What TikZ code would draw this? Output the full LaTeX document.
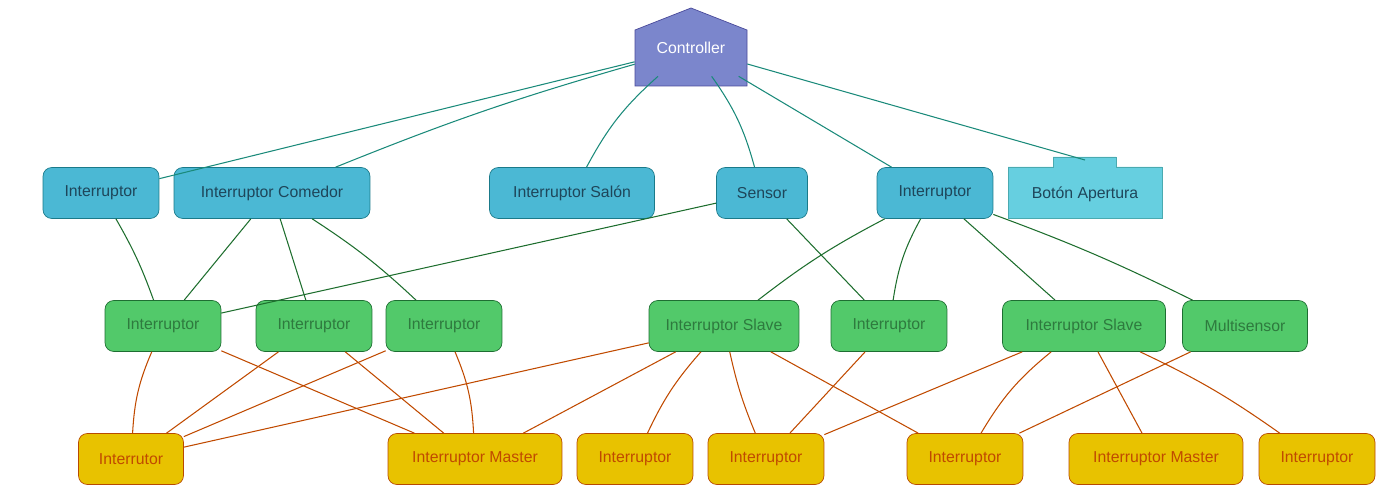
\documentclass[tikz,border=0pt]{standalone}
\usepackage{fontspec}
\setmainfont{Liberation Sans}
\definecolor{tealE}{HTML}{1A8A7A}
\definecolor{greenE}{HTML}{1E6E2E}
\definecolor{orE}{HTML}{C04A00}
\definecolor{cFill}{RGB}{123,134,204}
\definecolor{cDraw}{RGB}{74,74,154}
\definecolor{aFill}{RGB}{75,184,212}
\definecolor{aDraw}{RGB}{26,122,138}
\definecolor{aText}{RGB}{30,70,90}
\definecolor{fFill}{RGB}{102,207,224}
\definecolor{fDraw}{RGB}{74,170,176}
\definecolor{bFill}{RGB}{82,201,106}
\definecolor{bDraw}{RGB}{30,110,50}
\definecolor{bText}{RGB}{46,122,62}
\definecolor{dFill}{RGB}{232,194,0}
\definecolor{dDraw}{RGB}{184,74,0}
\definecolor{dText}{RGB}{192,74,0}
\begin{document}
\begin{tikzpicture}[x=0.02cm,y=-0.02cm,
  font=\fontsize{9}{11}\selectfont,
  box/.style={rounded corners=5pt,minimum height=1.02cm,inner sep=0pt},
  r1/.style={box,fill=aFill,draw=aDraw,text=aText},
  r2/.style={box,fill=bFill,draw=bDraw,text=bText},
  r3/.style={box,fill=dFill,draw=dDraw,text=dText},
  te/.style={tealE,semithick},
  ge/.style={greenE,semithick},
  oe/.style={orE,semithick}]
\useasboundingbox (0,0) rectangle (1380,500);
% controller
\filldraw[fill=cFill,draw=cDraw] (635,86) -- (635,30) -- (691,8) -- (747,30) -- (747,86) -- cycle;
\node[minimum width=2.24cm,minimum height=1.12cm,inner sep=0pt,text=white] (ctrl) at (691,48) {Controller};
% row1
\node[r1,minimum width=2.32cm] (a1) at (101,193) {Interruptor};
\node[r1,minimum width=3.92cm] (a2) at (272,193) {Interruptor Comedor};
\node[r1,minimum width=3.3cm] (a3) at (572,193) {Interruptor Salón};
\node[r1,minimum width=1.82cm] (a4) at (762,193) {Sensor};
\node[r1,minimum width=2.32cm] (a5) at (935,193) {Interruptor};
\filldraw[fill=fFill,draw=fDraw] (1008,218) -- (1008,167) -- (1053,167) -- (1053,157) -- (1116,157) -- (1116,167) -- (1162,167) -- (1162,218) -- cycle;
\node[minimum width=3.08cm,minimum height=1.22cm,inner sep=0pt] (a6) at (1085,188) {};
\node[text=aText] at (1085,194) {Botón Apertura};
\coordinate (a6t) at (1085,160);
% row2
\node[r2,minimum width=2.32cm] (b1) at (163,326) {Interruptor};
\node[r2,minimum width=2.32cm] (b2) at (314,326) {Interruptor};
\node[r2,minimum width=2.32cm] (b3) at (444,326) {Interruptor};
\node[r2,minimum width=3.0cm] (b4) at (724,326) {Interruptor Slave};
\node[r2,minimum width=2.32cm] (b5) at (889,326) {Interruptor};
\node[r2,minimum width=3.26cm] (b6) at (1084,326) {Interruptor Slave};
\node[r2,minimum width=2.5cm] (b7) at (1245,326) {Multisensor};
% row3
\node[r3,minimum width=2.1cm] (c1) at (131,459) {Interrutor};
\node[r3,minimum width=3.48cm] (c2) at (475,459) {Interruptor Master};
\node[r3,minimum width=2.32cm] (c3) at (635,459) {Interruptor};
\node[r3,minimum width=2.32cm] (c4) at (766,459) {Interruptor};
\node[r3,minimum width=2.32cm] (c5) at (965,459) {Interruptor};
\node[r3,minimum width=3.48cm] (c6) at (1156,459) {Interruptor Master};
\node[r3,minimum width=2.32cm] (c7) at (1317,459) {Interruptor};
% controller edges
\draw[te] (ctrl) -- (a1);
\draw[te] (ctrl) to[bend right=3] (a2);
\draw[te] (ctrl) to[bend right=10] (a3);
\draw[te] (ctrl) to[bend left=10] (a4);
\draw[te] (ctrl) -- (a5);
\draw[te] (ctrl) -- (a6t);
% row1-row2
\draw[ge] (a1) to[bend left=5] (b1);
\draw[ge] (a2) -- (b1);
\draw[ge] (a2) -- (b2);
\draw[ge] (a2) to[bend left=5] (b3);
\draw[ge] (a4) -- (b1);
\draw[ge] (a4) -- (b5);
\draw[ge] (a5) to[bend right=5] (b4);
\draw[ge] (a5) to[bend right=10] (b5);
\draw[ge] (a5) -- (b6);
\draw[ge] (a5) to[bend left=3] (b7);
% row2-row3
\draw[oe] (b1) to[bend right=10] (c1);
\draw[oe] (b1) -- (c2);
\draw[oe] (b2) -- (c1);
\draw[oe] (b2) -- (c2);
\draw[oe] (b3) -- (c1);
\draw[oe] (b3) to[bend left=10] (c2);
\draw[oe] (b4) -- (c1);
\draw[oe] (b4) -- (c2);
\draw[oe] (b4) to[bend right=8] (c3);
\draw[oe] (b4) to[bend right=5] (c4);
\draw[oe] (b4) -- (c5);
\draw[oe] (b5) -- (c4);
\draw[oe] (b6) -- (c4);
\draw[oe] (b6) to[bend right=10] (c5);
\draw[oe] (b6) -- (c6);
\draw[oe] (b6) to[bend left=5] (c7);
\draw[oe] (b7) -- (c5);
\end{tikzpicture}
\end{document}
